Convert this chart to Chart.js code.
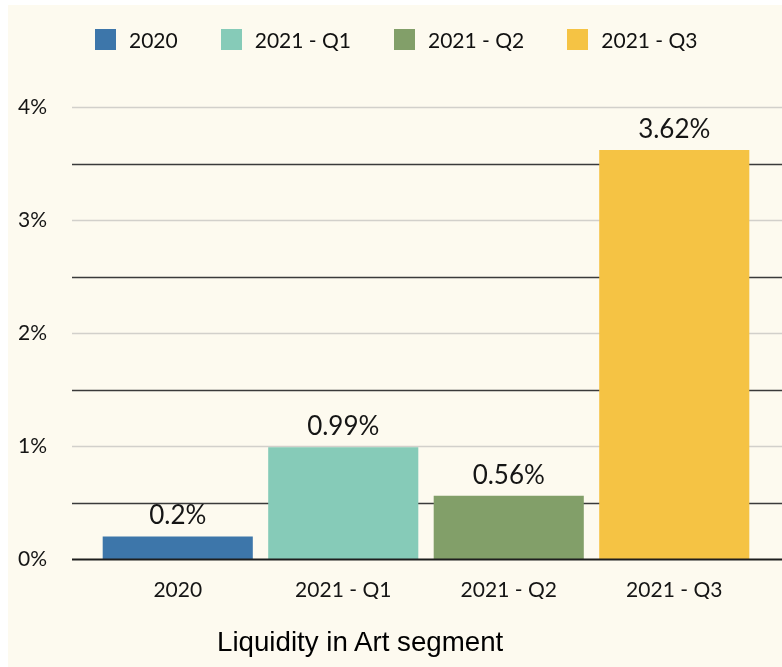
<!DOCTYPE html>
<html lang="en">
<head>
    <meta charset="UTF-8">
    <title>Liquidity in Art segment</title>
    <script src="https://cdn.jsdelivr.net/npm/chart.js"></script>
    <style>
        body {
            margin: 0;
            padding: 0;
            background-color: #ffffff;
        }
        .frame {
            position: absolute;
            left: 8px;
            top: 5px;
            width: 774px;
            height: 662px;
            background-color: #fdfaef;
        }
        canvas#liquidityChart {
            position: absolute;
            left: 0;
            top: 0;
        }
        .legend {
            position: absolute;
            left: 87px;
            top: 24px;
            display: flex;
            align-items: center;
            height: 21px;
            font-family: Lato, "Noto Sans", sans-serif;
            font-size: 21px;
            color: #111;
        }
        .legend-item {
            display: flex;
            align-items: center;
            margin-right: 43px;
        }
        .legend-box {
            width: 21px;
            height: 21px;
            margin-right: 13px;
        }
        .chart-title {
            position: absolute;
            left: 209px;
            top: 623px;
            font-family: "Liberation Sans", Arial, sans-serif;
            font-size: 27.7px;
            line-height: 27px;
            color: #000;
            white-space: nowrap;
        }
    </style>
</head>
<body>
    <div class="frame">
        <canvas id="liquidityChart" width="774" height="662"></canvas>
        <div class="legend" id="legend"></div>
        <div class="chart-title" id="chartTitle"></div>
    </div>

    <script>
        // chart data
        const categories = ['2020', '2021 - Q1', '2021 - Q2', '2021 - Q3'];
        const liquidity = [0.2, 0.99, 0.56, 3.62];
        const valueLabels = ['0.2%', '0.99%', '0.56%', '3.62%'];
        const yMax = 4;
        const yStep = 0.5;
        const chartTitle = 'Liquidity in Art segment';

        const palette = ['#3d76aa', '#86cbb8', '#829f69', '#f5c344'];
        const tickFont = { family: 'Lato, "Noto Sans", sans-serif', size: 21 };

        // legend + title as html
        const legendEl = document.getElementById('legend');
        categories.forEach((cat, i) => {
            const item = document.createElement('div');
            item.className = 'legend-item';
            const box = document.createElement('span');
            box.className = 'legend-box';
            box.style.backgroundColor = palette[i];
            const txt = document.createElement('span');
            txt.textContent = cat;
            item.appendChild(box);
            item.appendChild(txt);
            legendEl.appendChild(item);
        });
        document.getElementById('chartTitle').textContent = chartTitle;

        // horizontal lines drawn across the whole frame from the y scale ticks
        const gridPlugin = {
            id: 'wideGrid',
            beforeDatasetsDraw(chart) {
                const ctx = chart.ctx;
                const y = chart.scales.y;
                const x0 = chart.chartArea.left - 23;
                const x1 = chart.width;
                ctx.save();
                y.ticks.forEach(t => {
                    const py = Math.round(y.getPixelForValue(t.value)) + 0.5;
                    if (t.value === 0) return;
                    ctx.strokeStyle = Number.isInteger(t.value) ? '#d2d0cb' : '#3a3a3a';
                    ctx.lineWidth = Number.isInteger(t.value) ? 1.5 : 1.3;
                    ctx.beginPath();
                    ctx.moveTo(x0, py);
                    ctx.lineTo(x1, py);
                    ctx.stroke();
                });
                ctx.restore();
            },
            afterDatasetsDraw(chart) {
                const ctx = chart.ctx;
                const y = chart.scales.y;
                const py = Math.round(y.getPixelForValue(0)) + 0.5;
                ctx.save();
                ctx.strokeStyle = '#1e1e1e';
                ctx.lineWidth = 2;
                ctx.beginPath();
                ctx.moveTo(chart.chartArea.left - 23, py);
                ctx.lineTo(chart.width, py);
                ctx.stroke();
                ctx.restore();
            }
        };

        // value labels above the bars
        const valueLabelPlugin = {
            id: 'valueLabels',
            afterDatasetsDraw(chart) {
                const ctx = chart.ctx;
                const meta = chart.getDatasetMeta(0);
                ctx.save();
                ctx.font = '26px Lato, "Noto Sans", sans-serif';
                ctx.fillStyle = '#151515';
                ctx.textAlign = 'center';
                ctx.textBaseline = 'alphabetic';
                meta.data.forEach((bar, i) => {
                    ctx.fillText(valueLabels[i], bar.x, bar.y - 12);
                });
                ctx.restore();
            }
        };

        const ctx = document.getElementById('liquidityChart').getContext('2d');
        const liquidityChart = new Chart(ctx, {
            type: 'bar',
            data: {
                labels: categories,
                datasets: [{
                    label: chartTitle,
                    data: liquidity,
                    backgroundColor: palette,
                    borderWidth: 0,
                    barPercentage: 0.907,
                    categoryPercentage: 1
                }]
            },
            options: {
                responsive: false,
                animation: false,
                layout: {
                    padding: { left: 0, right: 25, top: 102, bottom: 68 }
                },
                plugins: {
                    legend: { display: false },
                    tooltip: { enabled: false }
                },
                scales: {
                    x: {
                        grid: { display: false },
                        border: { display: false },
                        ticks: {
                            font: tickFont,
                            color: '#151515',
                            padding: 11,
                            maxRotation: 0
                        },
                        afterFit: s => { s.height = 40; }
                    },
                    y: {
                        min: 0,
                        max: yMax,
                        grid: { display: false },
                        border: { display: false },
                        ticks: {
                            stepSize: yStep,
                            font: tickFont,
                            color: '#151515',
                            padding: 40,
                            callback: v => Number.isInteger(v) ? v + '%' : ''
                        },
                        afterFit: s => { s.width = 87; }
                    }
                }
            },
            plugins: [gridPlugin, valueLabelPlugin]
        });
    </script>
</body>
</html>
